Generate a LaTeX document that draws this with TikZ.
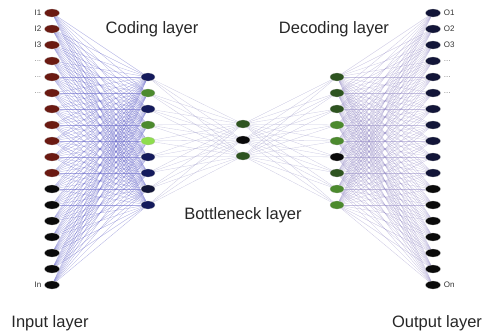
\documentclass[tikz,border=0pt]{standalone}
\usepackage{fontspec}
\setmainfont{Liberation Sans}
\usetikzlibrary{shapes.geometric,positioning,backgrounds}
\definecolor{inred}{HTML}{6B1A12}
\definecolor{navyunit}{HTML}{141A5C}
\definecolor{outnavy}{HTML}{121538}
\definecolor{darkgreen}{HTML}{2E5420}
\definecolor{midgreen}{HTML}{4C8A2E}
\definecolor{lightgreen}{HTML}{8EDC4E}
\definecolor{nearblack}{HTML}{0A0A0A}
\tikzset{
    unit/.style={ellipse,draw=gray!50,line width=0.2pt,inner sep=0pt,minimum width=15pt,minimum height=8pt},
    tag/.style={font=\fontsize{8}{9}\selectfont,text=black!80,inner sep=1pt},
    dots/.style={font=\fontsize{8}{9}\selectfont,text=gray,inner sep=1pt},
    layername/.style={font=\fontsize{16.5}{19}\selectfont,text=black!85},
    enc/.style={draw={rgb,255:red,100;green,100;blue,200},opacity=0.55,line width=0.3pt},
    mid/.style={draw={rgb,255:red,175;green,172;blue,210},opacity=0.65,line width=0.3pt},
    dec/.style={draw={rgb,255:red,145;green,135;blue,195},opacity=0.5,line width=0.3pt}
}

\begin{document}
\begin{tikzpicture}[x=1pt,y=-1pt]
    \useasboundingbox (0,0) rectangle (488,335);

    % input and output layers
    \foreach \i in {1,...,18} {
        \ifnum\i<12 \def\incol{inred}\def\outcol{outnavy}\else\def\incol{nearblack}\def\outcol{nearblack}\fi
        \node[unit,fill=\incol] (in \i) at (52,{13+(\i-1)*16}) {};
        \node[unit,fill=\outcol] (out \i) at (433,{13+(\i-1)*16}) {};
    }

    % coding and decoding layers
    \foreach \j/\enccol/\deccol in {1/navyunit/darkgreen,2/midgreen/darkgreen,3/navyunit/darkgreen,
            4/midgreen/midgreen,5/lightgreen/midgreen,6/navyunit/nearblack,
            7/navyunit/darkgreen,8/outnavy/midgreen,9/navyunit/midgreen} {
        \node[unit,minimum width=14pt,fill=\enccol] (hid \j) at (148,{77+(\j-1)*16}) {};
        \node[unit,minimum width=14pt,fill=\deccol] (rec \j) at (337,{77+(\j-1)*16}) {};
    }

    % bottleneck
    \foreach \k/\botcol in {1/darkgreen,2/nearblack,3/darkgreen}
        \node[unit,minimum width=14pt,fill=\botcol] (bot \k) at (243,{124+(\k-1)*16}) {};

    \begin{scope}[on background layer]
        \foreach \i in {1,...,18}
            \foreach \j in {1,...,9} {
                \draw[enc] (in \i) -- (hid \j);
                \draw[dec] (rec \j) -- (out \i);
            }
        \foreach \j in {1,...,9}
            \foreach \k in {1,2,3} {
                \draw[mid] (hid \j) -- (bot \k);
                \draw[mid] (bot \k) -- (rec \j);
            }
    \end{scope}

    % unit tags
    \node[tag,left=2pt of in 1] (tag in 1) {I1};
    \node[tag,left=2pt of in 2] (tag in 2) {I2};
    \node[tag,left=2pt of in 3] (tag in 3) {I3};
    \node[dots,left=2pt of in 4] (tag in 4) {...};
    \node[dots,left=2pt of in 5] (tag in 5) {...};
    \node[dots,left=2pt of in 6] (tag in 6) {...};
    \node[tag,left=2pt of in 18] (tag in 18) {In};
    \node[tag,right=2pt of out 1] (tag out 1) {O1};
    \node[tag,right=2pt of out 2] (tag out 2) {O2};
    \node[tag,right=2pt of out 3] (tag out 3) {O3};
    \node[dots,right=2pt of out 4] (tag out 4) {...};
    \node[dots,right=2pt of out 5] (tag out 5) {...};
    \node[dots,right=2pt of out 6] (tag out 6) {...};
    \node[tag,right=2pt of out 18] (tag out 18) {On};

    % layer names
    \node[layername] (coding) at (152,29) {Coding layer};
    \node[layername] (decoding) at (334,29) {Decoding layer};
    \node[layername] (bottleneck) at (243,215) {Bottleneck layer};
    \node[layername] (input) at (50,323) {Input layer};
    \node[layername] (output) at (437,323) {Output layer};
\end{tikzpicture}
\end{document}
